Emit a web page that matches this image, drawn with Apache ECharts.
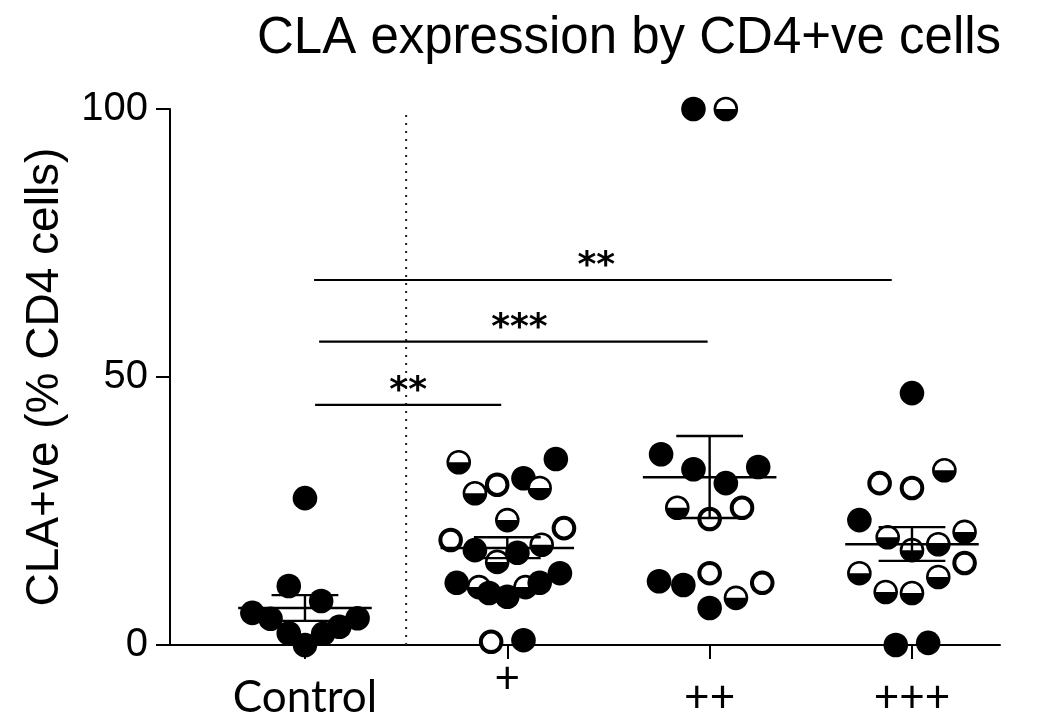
<!DOCTYPE html>
<html>
<head>
<meta charset="utf-8">
<script src="https://cdn.jsdelivr.net/npm/echarts@6/dist/echarts.min.js"></script>
<style>html,body{margin:0;padding:0;background:#fff;}#chart{width:1043px;height:724px;}</style>
</head>
<body>
<div id="chart"></div>
<script>
// ---- data ----
const categories = ['Control', '+', '++', '+++'];
const titleText = 'CLA expression by CD4+ve cells';
const yAxisName = 'CLA+ve (% CD4 cells)';
const yTicks = [0, 50, 100];

// values (% CD4 cells), horizontal jitter (category units) and marker kind (F filled, O open, H half)
const controlValues  = [27.4, 11.0, 8.2, 6.0, 4.9, 5.0, 3.4, 2.2, 2.1, 0];
const controlJitter  = [0, -0.08, 0.08, -0.26, -0.17, 0.26, 0.17, -0.08, 0.09, 0];
const controlMarkers = ['F','F','F','F','F','F','F','F','F','F'];

const plusValues  = [34.1, 34.7, 28.3, 29.9, 31.1, 29.3, 23.3, 21.8, 19.6, 17.7, 15.5, 17.2, 18.7, 11.6, 10.8, 9.7, 9.0, 10.8, 11.6, 13.4, 0.6, 0.9];
const plusJitter  = [-0.24, 0.24, -0.16, -0.05, 0.08, 0.16, 0, 0.28, -0.28, -0.16, -0.05, 0.05, 0.17, -0.25, -0.14, -0.09, 0, 0.09, 0.16, 0.26, -0.08, 0.08];
const plusMarkers = ['H','F','H','O','F','H','H','O','O','F','H','F','H','F','H','F','F','H','F','F','O','F'];

const plus2Values  = [100, 100, 35.6, 32.8, 33.2, 30.2, 25.6, 25.6, 23.5, 11.9, 11.2, 13.4, 11.6, 6.9, 8.8];
const plus2Jitter  = [-0.08, 0.08, -0.24, -0.08, 0.24, 0.08, -0.16, 0.16, 0, -0.25, -0.13, 0, 0.26, 0, 0.13];
const plus2Markers = ['F','H','F','F','F','F','H','O','O','F','F','O','O','F','H'];

const plus3Values  = [47.0, 30.2, 29.3, 32.6, 23.3, 20.1, 17.7, 18.8, 21.1, 15.3, 13.4, 12.7, 9.9, 9.7, 0, 0.4];
const plus3Jitter  = [0, -0.16, 0, 0.16, -0.26, -0.12, 0, 0.13, 0.26, 0.26, -0.26, 0.13, -0.13, 0, -0.08, 0.08];
const plus3Markers = ['F','O','O','H','F','H','H','H','H','O','H','H','H','H','F','F'];

// mean and SEM whiskers
const meanValues = [6.9, 18.1, 31.3, 18.8];
const semUpper   = [9.3, 20.1, 39.0, 22.0];
const semLower   = [4.5, 16.2, 23.7, 15.7];

// significance brackets: [from, to, level], stars
const sigFrom   = [0.05, 0.07, 0.045];
const sigTo     = [0.97, 1.99, 2.9];
const sigLevel  = [44.8, 56.6, 68.1];
const sigLabels = ['**', '***', '**'];
const sigLabelX = [0.51, 1.06, 1.44];

// dotted separator position (between Control and +)
const separatorX = 0.5;

// ---- build ----
const groups = [
  [controlValues, controlJitter, controlMarkers],
  [plusValues, plusJitter, plusMarkers],
  [plus2Values, plus2Jitter, plus2Markers],
  [plus3Values, plus3Jitter, plus3Markers]
];
const kindCode = {F: 0, O: 1, H: 2};
const pointData = [];
groups.forEach((g, gi) => {
  g[0].forEach((v, i) => pointData.push([gi + g[1][i], v, kindCode[g[2][i]]]));
});
const errData = meanValues.map((m, i) => [i, m, semLower[i], semUpper[i]]);

const sigSeries = sigLevel.map((lv, i) => ({
  type: 'line', silent: true, symbol: 'none', z: 3,
  lineStyle: {color: '#000', width: 2.2},
  data: [[sigFrom[i], lv], [sigTo[i], lv]]
}));

const chart = echarts.init(document.getElementById('chart'), null, {renderer: 'canvas'});
chart.setOption({
  animation: false,
  backgroundColor: '#fff',
  title: {
    text: titleText, left: 252, top: 8,
    textStyle: {fontFamily: 'Liberation Sans', fontSize: 51, fontWeight: 'normal', color: '#000'}
  },
  grid: {left: 170, right: 43, top: 109, bottom: 79, containLabel: false},
  xAxis: {
    type: 'value', min: -0.667, max: 3.435,
    axisLine: {show: true, onZero: false, lineStyle: {color: '#000', width: 2}},
    axisTick: {show: true, customValues: [0, 1, 2, 3], length: 14, inside: false, lineStyle: {color: '#000', width: 2}},
    axisLabel: {
      show: true, customValues: [0, 1, 2, 3], margin: 12,
      formatter: v => {
        const c = categories[Math.round(v)];
        return c === '+' ? '{hi|' + c + '}' : '{lo|' + c + '}';
      },
      rich: {
        hi: {fontFamily: 'Lato', fontSize: 44, color: '#000', padding: [0, 0, 0, 0]},
        lo: {fontFamily: 'Lato', fontSize: 44, color: '#000', padding: [19, 0, 0, 0]}
      },
      fontFamily: 'Lato', fontSize: 44, color: '#000'
    },
    splitLine: {show: false}
  },
  yAxis: {
    type: 'value', min: 0, max: 100, interval: 50,
    name: yAxisName, nameLocation: 'middle', nameGap: 102, nameRotate: 90,
    nameTextStyle: {fontFamily: 'Liberation Sans', fontSize: 46, color: '#000'},
    axisLine: {show: true, onZero: false, lineStyle: {color: '#000', width: 2}},
    axisTick: {show: true, length: 14, lineStyle: {color: '#000', width: 2}},
    axisLabel: {show: true, margin: 22, fontFamily: 'Liberation Sans', fontSize: 40, color: '#000',
      formatter: v => (yTicks.indexOf(v) >= 0 ? String(v) : '')},
    splitLine: {show: false}
  },
  series: [
    {
      type: 'line', silent: true, symbol: 'none', z: 1,
      lineStyle: {color: '#222', width: 2, type: [2, 6]},
      data: [[separatorX, 0], [separatorX, 100]]
    },
    ...sigSeries,
    {
      type: 'scatter', silent: true, symbolSize: 1, itemStyle: {color: 'rgba(0,0,0,0)'}, z: 4,
      data: sigLabels.map((t, i) => ({value: [sigLabelX[i], sigLevel[i] + 2.4], name: t})),
      label: {show: true, position: 'inside', formatter: p => p.name,
        fontFamily: 'DejaVu Sans', fontSize: 36, fontWeight: 'bold', color: '#000', opacity: 1}
    },
    {
      type: 'custom', z: 5, clip: false,
      data: pointData,
      renderItem: function (params, api) {
        const p = api.coord([api.value(0), api.value(1)]);
        const k = api.value(2);
        if (k === 0) {
          return {type: 'circle', shape: {cx: p[0], cy: p[1], r: 12.3}, style: {fill: '#000'}};
        }
        if (k === 1) {
          return {type: 'circle', shape: {cx: p[0], cy: p[1], r: 10.3}, style: {fill: '#fff', stroke: '#000', lineWidth: 4}};
        }
        return {type: 'group', children: [
          {type: 'circle', shape: {cx: p[0], cy: p[1], r: 11}, style: {fill: '#fff', stroke: '#000', lineWidth: 2.6}},
          {type: 'sector', shape: {cx: p[0], cy: p[1], r0: 0, r: 11.2, startAngle: 0, endAngle: Math.PI, clockwise: true}, style: {fill: '#000'}}
        ]};
      }
    },
    {
      type: 'custom', z: 6, clip: false,
      data: errData,
      renderItem: function (params, api) {
        const x = api.value(0);
        const m = api.coord([x, api.value(1)]);
        const lo = api.coord([x, api.value(2)]);
        const hi = api.coord([x, api.value(3)]);
        const unit = api.coord([x + 1, 0])[0] - api.coord([x, 0])[0];
        const hw = unit * 0.33, cw = unit * 0.165;
        const st = {stroke: '#000', lineWidth: 2.4};
        return {type: 'group', children: [
          {type: 'line', shape: {x1: m[0] - hw, y1: m[1], x2: m[0] + hw, y2: m[1]}, style: st},
          {type: 'line', shape: {x1: lo[0], y1: lo[1], x2: hi[0], y2: hi[1]}, style: st},
          {type: 'line', shape: {x1: hi[0] - cw, y1: hi[1], x2: hi[0] + cw, y2: hi[1]}, style: st},
          {type: 'line', shape: {x1: lo[0] - cw, y1: lo[1], x2: lo[0] + cw, y2: lo[1]}, style: st}
        ]};
      }
    }
  ]
});
</script>
</body>
</html>
